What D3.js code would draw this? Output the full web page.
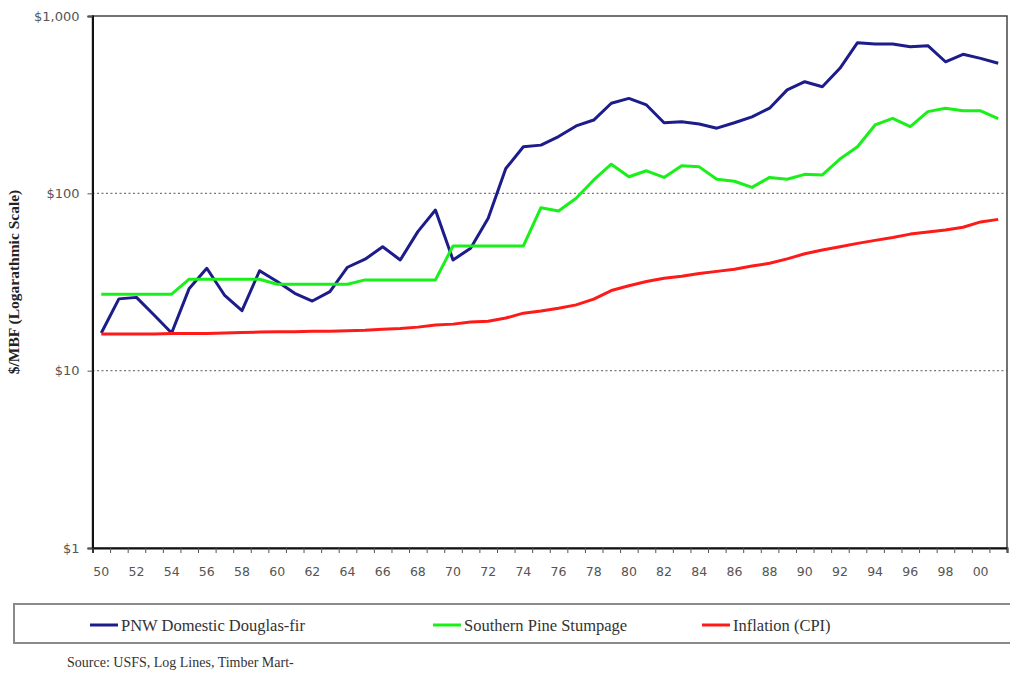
<!DOCTYPE html>
<html>
<head>
<meta charset="utf-8">
<script src="https://cdn.jsdelivr.net/npm/d3@7"></script>
<style>
  html, body { margin: 0; padding: 0; background: #fff; }
  svg { display: block; }
</style>
</head>
<body>
<svg id="chart" width="1010" height="679"></svg>
<script>
// Years 1950–2001
const years = d3.range(1950, 2002);

// PNW domestic Douglas-fir log price, $/MBF
const douglasFir = [
  16.3, 25.4, 25.9, 20.6, 16.3, 29.1, 37.8, 26.7, 21.8, 36.6,
  31.8, 27.3, 24.7, 27.9, 38.3, 42.5, 50.0, 42.1, 60.8, 80.5,
  42.1, 49.0, 72.3, 138, 183, 187, 209, 240, 259, 322,
  343, 315, 250, 253, 246, 233, 250, 270, 302, 383,
  426, 399, 507, 707, 695, 695, 671, 680, 552, 608,
  577, 541
];

// Southern pine stumpage price, $/MBF
const southernPine = [
  27.0, 27.0, 27.0, 27.0, 27.0, 32.8, 32.8, 32.8, 32.8, 32.8,
  30.7, 30.7, 30.7, 30.7, 30.7, 32.5, 32.5, 32.5, 32.5, 32.5,
  50.5, 50.5, 50.5, 50.5, 50.5, 83, 79.5, 93.8, 119, 146,
  124, 134, 123, 143, 141, 120, 117, 108, 123, 120,
  128, 127, 156, 183, 243, 265, 238, 289, 302, 292,
  292, 264
];

// Inflation (CPI), indexed to the 1950 price level
const inflation = [
  16.1, 16.1, 16.1, 16.1, 16.2, 16.2, 16.2, 16.3, 16.4, 16.5,
  16.6, 16.6, 16.7, 16.7, 16.8, 16.9, 17.1, 17.3, 17.6, 18.1,
  18.3, 18.8, 19.0, 19.8, 21.1, 21.7, 22.5, 23.5, 25.3, 28.3,
  30.1, 31.8, 33.2, 34.1, 35.3, 36.3, 37.3, 38.9, 40.3, 42.7,
  45.6, 47.9, 50.0, 52.2, 54.3, 56.3, 58.9, 60.6, 62.2, 64.4,
  69.0, 71.3
];

// Axis tick values and labels
const yTickValues = [1, 10, 100, 1000];
const yTickLabels = ["$1", "$10", "$100", "$1,000"];
const xLabelYears = d3.range(1950, 2001, 2);
const xTickLabels = ["50","52","54","56","58","60","62","64","66","68","70","72","74",
                     "76","78","80","82","84","86","88","90","92","94","96","98","00"];

const seriesNames = ["PNW Domestic Douglas-fir", "Southern Pine Stumpage", "Inflation (CPI)"];
const seriesColors = ["#1c1c8a", "#19f019", "#ff1a1a"];
const seriesData = [douglasFir, southernPine, inflation];

const serif = "'Liberation Serif', 'Times New Roman', serif";
const sans = "'DejaVu Sans', Verdana, sans-serif";

const svg = d3.select("#chart");
const plot = { left: 92.5, right: 1007, top: 16, bottom: 548 };

const x = d3.scaleBand().domain(years).range([plot.left, plot.right]).padding(0);
const xEdge = d3.scaleLinear().domain([0, years.length]).range([plot.left, plot.right]);
const y = d3.scaleLog().domain([1, 1000]).range([plot.bottom, plot.top]);
const cx = d => x(d) + x.bandwidth() / 2;

// Dotted gridlines at $10 and $100
svg.append("g")
  .selectAll("line")
  .data([10, 100])
  .join("line")
  .attr("x1", plot.left).attr("x2", plot.right)
  .attr("y1", d => y(d)).attr("y2", d => y(d))
  .attr("stroke", "#7a7a7a")
  .attr("stroke-width", 1.3)
  .attr("stroke-dasharray", "2,2.5");

// Plot frame
svg.append("rect")
  .attr("x", plot.left).attr("y", plot.top)
  .attr("width", plot.right - plot.left)
  .attr("height", plot.bottom - plot.top)
  .attr("fill", "none")
  .attr("stroke", "#444")
  .attr("stroke-width", 1.5);

// Y axis
const yAxis = svg.append("g")
  .attr("transform", `translate(${plot.left},0)`)
  .call(d3.axisLeft(y)
    .tickValues(yTickValues)
    .tickFormat((d, i) => yTickLabels[i])
    .tickSize(5)
    .tickPadding(8));
yAxis.select(".domain").attr("stroke", "#111").attr("stroke-width", 2);
yAxis.selectAll(".tick line").attr("stroke", "#555");
yAxis.selectAll("text")
  .style("font-family", sans)
  .style("font-size", "13px")
  .attr("fill", "#555");

// X axis: tick marks on category boundaries
const xTicks = svg.append("g")
  .attr("transform", `translate(0,${plot.bottom})`)
  .call(d3.axisBottom(xEdge)
    .tickValues(d3.range(0, years.length + 1))
    .tickFormat("")
    .tickSize(5));
xTicks.select(".domain").attr("stroke", "#111").attr("stroke-width", 2);
xTicks.selectAll(".tick line").attr("stroke", "#555");

// X axis: labels centred on every other category
const xLabels = svg.append("g")
  .attr("transform", `translate(0,${plot.bottom})`)
  .call(d3.axisBottom(x)
    .tickValues(xLabelYears)
    .tickFormat((d, i) => xTickLabels[i])
    .tickSize(0)
    .tickPadding(19));
xLabels.select(".domain").remove();
xLabels.selectAll("text")
  .style("font-family", sans)
  .style("font-size", "12.5px")
  .attr("fill", "#555");

// Y axis title
svg.append("text")
  .attr("transform", `translate(19,${(plot.top + plot.bottom) / 2}) rotate(-90)`)
  .attr("text-anchor", "middle")
  .style("font-family", serif)
  .style("font-weight", "bold")
  .style("font-size", "15.5px")
  .attr("fill", "#222")
  .text("$/MBF (Logarathmic Scale)");

// Series lines
const line = d3.line()
  .x((d, i) => cx(years[i]))
  .y(d => y(d));

svg.append("g")
  .selectAll("path")
  .data(seriesData)
  .join("path")
  .attr("d", d => line(d))
  .attr("fill", "none")
  .attr("stroke", (d, i) => seriesColors[i])
  .attr("stroke-width", 3)
  .attr("stroke-linejoin", "round");

// Legend
svg.append("rect")
  .attr("x", 14).attr("y", 604)
  .attr("width", 1010).attr("height", 39)
  .attr("fill", "#fff")
  .attr("stroke", "#8a8a8a")
  .attr("stroke-width", 2);

const legendX = [90, 433, 702];
const legend = svg.append("g")
  .selectAll("g")
  .data(seriesNames)
  .join("g")
  .attr("transform", (d, i) => `translate(${legendX[i]},625)`);
legend.append("line")
  .attr("x1", 0).attr("x2", 28)
  .attr("stroke", (d, i) => seriesColors[i])
  .attr("stroke-width", 3);
legend.append("text")
  .attr("x", 31).attr("y", 5.5)
  .style("font-family", serif)
  .style("font-size", "16.5px")
  .attr("fill", "#333")
  .text(d => d);

// Source note
svg.append("text")
  .attr("x", 67).attr("y", 667)
  .style("font-family", serif)
  .style("font-size", "14px")
  .attr("fill", "#333")
  .text("Source:  USFS, Log Lines, Timber Mart-");
</script>
</body>
</html>
